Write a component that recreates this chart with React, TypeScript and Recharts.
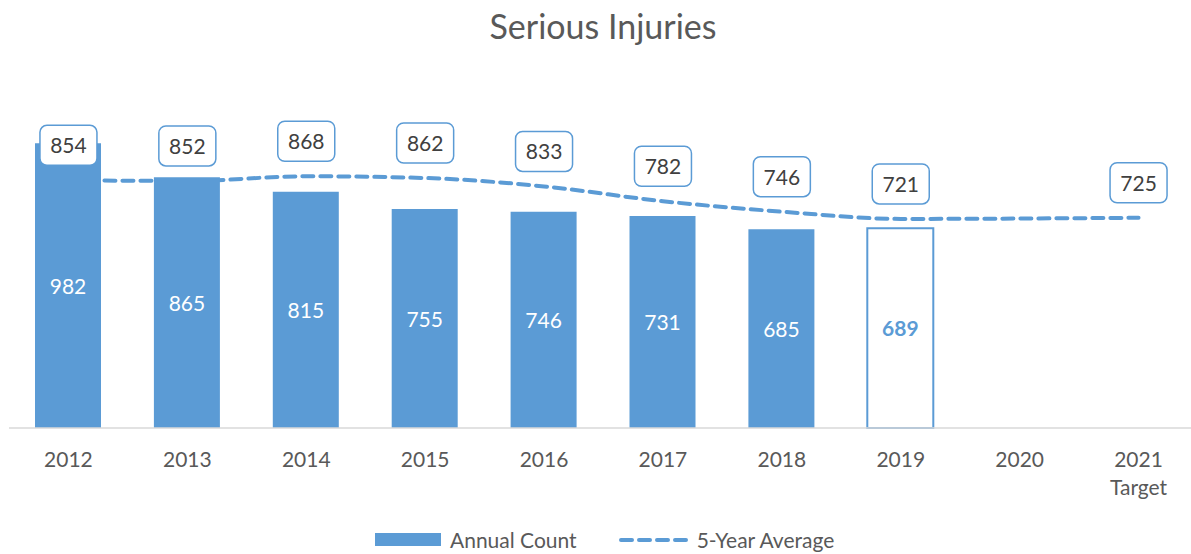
import React from 'react';
import { Bar, Cell, ComposedChart, LabelList, Line, XAxis, YAxis } from 'recharts';

const years = ['2012', '2013', '2014', '2015', '2016', '2017', '2018', '2019', '2020', '2021 Target'];
const annualCount = [982, 865, 815, 755, 746, 731, 685, 689, null, null];
const fiveYearAvg = [854, 852, 868, 862, 833, 782, 746, 721, null, 725];
const projectedYear = '2019';

const BLUE = '#5B9BD5';
const TEXT = '#595959';
const FONT = 'Lato, "Open Sans", sans-serif';

const data = years.map((year, i) => ({
  year,
  count: annualCount[i],
  avg: fiveYearAvg[i],
}));

function YearTick({ x, y, payload }: any) {
  const lines = String(payload.value).split(' ');
  return (
    <text x={x} y={y + 31} textAnchor="middle" fill={TEXT} fontSize={21} fontFamily={FONT}>
      {lines.map((l, i) => (
        <tspan key={i} x={x} dy={i === 0 ? 0 : 28}>
          {l}
        </tspan>
      ))}
    </text>
  );
}

function CountLabel({ x, y, width, height, value, index }: any) {
  if (value == null) return null;
  const projected = data[index].year === projectedYear;
  return (
    <text
      x={x + width / 2}
      y={y + height / 2 + 8}
      textAnchor="middle"
      fill={projected ? BLUE : '#ffffff'}
      fontWeight={projected ? 700 : 400}
      fontSize={21}
      fontFamily={FONT}
    >
      {value}
    </text>
  );
}

function AvgLabel({ x, y, value }: any) {
  if (value == null) return null;
  const w = 57;
  const h = 40;
  const cy = y - 35;
  return (
    <g>
      <rect x={x - w / 2} y={cy - h / 2} width={w} height={h} rx={7} ry={7} fill="#ffffff" stroke={BLUE} strokeWidth={1.5} />
      <text x={x} y={cy + 8} textAnchor="middle" fill="#404040" fontSize={21} fontFamily={FONT}>
        {value}
      </text>
    </g>
  );
}

export default function App() {
  return (
    <div style={{ position: 'absolute', left: 0, top: 0, width: 1191, height: 554, overflow: 'hidden', background: '#fff' }}>
      <div
        style={{
          position: 'absolute',
          left: 0,
          top: 5,
          width: 1206,
          textAlign: 'center',
          fontFamily: FONT,
          fontSize: 34,
          color: TEXT,
        }}
      >
        Serious Injuries
      </div>
      <ComposedChart width={1200} height={554} data={data} margin={{ top: 80, right: 2, left: 9, bottom: 0 }} barCategoryGap={0}>
        <XAxis
          dataKey="year"
          axisLine={{ stroke: '#D9D9D9', strokeWidth: 1.5 }}
          tickLine={false}
          interval={0}
          tick={<YearTick />}
          height={126}
        />
        <YAxis hide domain={[0, 1200]} />
        <Line
          dataKey="avg"
          type="monotone"
          stroke={BLUE}
          strokeWidth={4}
          strokeDasharray="11 7"
          strokeLinecap="round"
          dot={false}
          connectNulls
          isAnimationActive={false}
          zIndex={250}
        />
        <Bar dataKey="count" barSize={66} isAnimationActive={false}>
          {data.map((d) => (
            <Cell
              key={d.year}
              fill={d.year === projectedYear ? '#ffffff' : BLUE}
              stroke={d.year === projectedYear ? BLUE : 'none'}
              strokeWidth={d.year === projectedYear ? 2 : 0}
            />
          ))}
          <LabelList dataKey="count" content={<CountLabel />} />
        </Bar>
        <Line dataKey="avg" type="monotone" stroke="none" dot={false} activeDot={false} isAnimationActive={false}>
          <LabelList dataKey="avg" content={<AvgLabel />} />
        </Line>
      </ComposedChart>
      <div
        style={{
          position: 'absolute',
          top: 527,
          left: 375,
          display: 'flex',
          alignItems: 'center',
          fontFamily: FONT,
          fontSize: 21,
          color: TEXT,
          whiteSpace: 'nowrap',
        }}
      >
        <span style={{ display: 'inline-block', width: 66, height: 13, background: BLUE, marginRight: 9 }} />
        <span>Annual Count</span>
        <svg width={74} height={10} style={{ marginLeft: 41, marginRight: 5 }}>
          <line x1={3} y1={5} x2={71} y2={5} stroke={BLUE} strokeWidth={4} strokeDasharray="11 7" strokeLinecap="round" />
        </svg>
        <span>5-Year Average</span>
      </div>
    </div>
  );
}
